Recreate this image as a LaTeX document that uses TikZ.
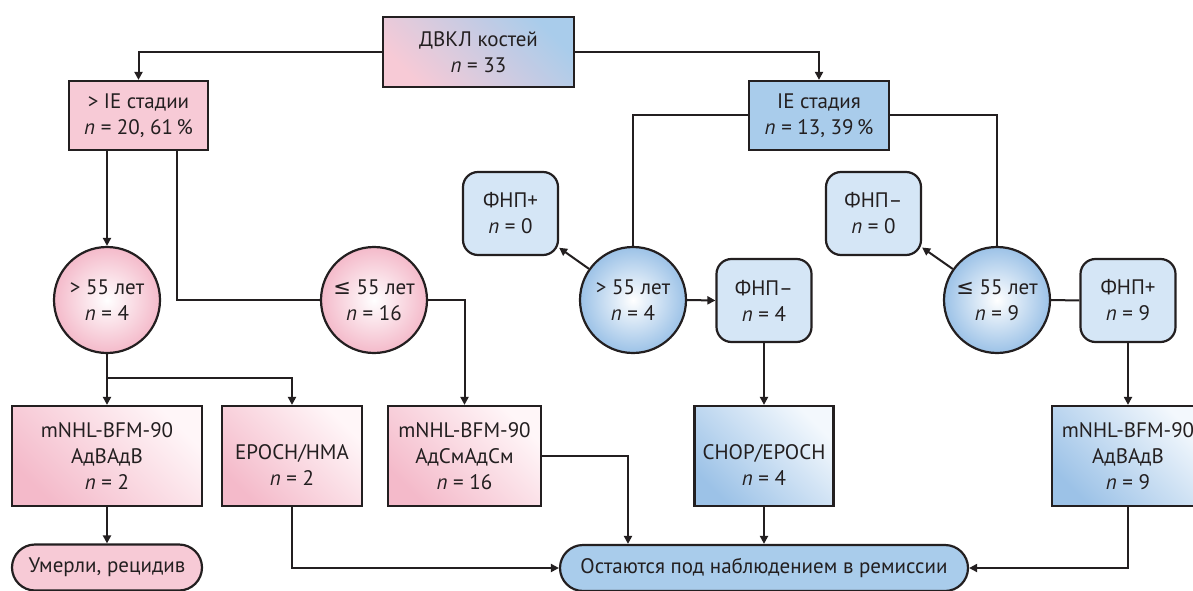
\documentclass[tikz,border=0pt]{standalone}
\usepackage{fontspec}
\setmainfont{PT Sans}
\newfontfamily\dvsym{DejaVu Sans}
\usetikzlibrary{arrows.meta,shapes.misc}
\newcommand\nv{\textit{n}}
\definecolor{linec}{HTML}{231F20}
\definecolor{pinkc}{HTML}{F7CAD6}
\definecolor{pinkd}{HTML}{F4BACA}
\definecolor{pinkl}{HTML}{FFF6F8}
\definecolor{bluec}{HTML}{A9CCEB}
\definecolor{blued}{HTML}{9CC2E7}
\definecolor{bluel}{HTML}{F3F8FD}
\definecolor{bluer}{HTML}{D5E6F6}
\begin{document}
\begin{tikzpicture}[x=1pt,y=-1pt,
  every node/.style={font=\fontsize{21}{26}\selectfont, align=center, text=linec, inner sep=0pt},
  bx/.style={draw=linec, line width=2.2pt, rectangle},
  pbox/.style={bx, fill=pinkc},
  bbox/.style={bx, fill=bluec},
  pgbox/.style={bx, shade, top color=pinkl, bottom color=pinkd, shading angle=-45, minimum height=100},
  bgbox/.style={bx, shade, top color=bluel, bottom color=blued, shading angle=-45, minimum height=100},
  topbox/.style={bx, shade, top color=bluec, bottom color=pinkc, shading angle=-45},
  pcirc/.style={circle, draw=linec, line width=2.2pt, minimum size=106, shade, inner color=white, outer color=pinkd},
  bcirc/.style={circle, draw=linec, line width=2.2pt, minimum size=106, shade, inner color=white, outer color=blued},
  rbox/.style={bx, fill=bluer, rounded corners=15pt, minimum width=95, minimum height=83},
  pill/.style={bx, rounded corners=23pt, minimum height=46},
  txt/.style={},
  conn/.style={draw=linec, line width=2pt},
  arr/.style={conn, -{Triangle[length=8pt,width=8pt]}}
]
\useasboundingbox (0,0) rectangle (1193,591);

% top level
\node[topbox, minimum width=191, minimum height=70] (top) at (478.5,52) {ДВКЛ костей\\\nv{} = 33};
\node[pbox, minimum width=139, minimum height=69] (gt) at (138.5,115.5) {> IE стадии\\\nv{} = 20, 61\,\%};
\node[bbox, minimum width=140, minimum height=69] (ie) at (819,115.5) {IE стадия\\\nv{} = 13, 39\,\%};

% circles
\node[pcirc] (c1) at (107,300) {> 55 лет\\\nv{} = 4};
\node[pcirc] (c3) at (374,300) {{\dvsym ≤} 55 лет\\\nv{} = 16};
\node[bcirc] (c2) at (633,300) {> 55 лет\\\nv{} = 4};
\node[bcirc] (c4) at (997,300) {{\dvsym ≤} 55 лет\\\nv{} = 9};

% rounded boxes
\node[rbox] (f1) at (510.5,213.5) {ФНП+\\\nv{} = 0};
\node[rbox] (f2) at (764,300.5) {ФНП–\\\nv{} = 4};
\node[rbox] (f3) at (873.5,213.5) {ФНП–\\\nv{} = 0};
\node[rbox] (f4) at (1128,300.5) {ФНП+\\\nv{} = 9};

% treatment boxes
\node[pgbox, minimum width=190] (m1) at (107,456) {mNHL-BFM-90\\АдВАдВ\\\nv{} = 2};
\node[pgbox, minimum width=140] (me) at (292,456) {};
\node[txt] (me-t) at (292,465) {EPOCH/HMA\\\nv{} = 2};
\node[pgbox, minimum width=153] (m2) at (464.5,456) {mNHL-BFM-90\\АдСмАдСм\\\nv{} = 16};
\node[bgbox, minimum width=139] (chop) at (764,456) {};
\node[txt] (chop-t) at (764,465) {CHOP/EPOCH\\\nv{} = 4};
\node[bgbox, minimum width=152] (m3) at (1128,456) {mNHL-BFM-90\\АдВАдВ\\\nv{} = 9};

% outcomes
\node[pill, fill=pinkc, minimum width=190] (dead) at (107,567.5) {Умерли, рецидив};
\node[pill, fill=bluec, minimum width=408] (rem) at (764,568) {Остаются под наблюдением в ремиссии};

% connectors
\draw[arr] (top.west) -| (gt.north);
\draw[arr] (top.east) -| (ie.north);
\draw[arr] (gt.south -| c1.north) -- (c1.north);
\draw[conn] (gt.south -| 177,0) |- (c3.west);
\draw[arr] (c3.east) -| (m2.north);
\coordinate (j1) at (107,378);
\draw[conn] (c1.south) -- (j1);
\draw[arr] (j1) -| (me.north);
\draw[arr] (j1) -- (m1.north);
\draw[arr] (m1.south) -- (dead.north);
\draw[arr] (me.south) |- (rem.west);
\draw[arr] (m2.east) -| ([xshift=-136pt]rem.north);
\draw[arr] (chop.south) -- (rem.north);
\draw[arr] (m3.south) |- (rem.east);
\draw[conn] (ie.west) -| (c2.north);
\draw[conn] (ie.east) -| (c4.north);
\draw[arr] (c2) -- (f1);
\draw[arr] (c2.east) -- (f2.west);
\draw[arr] (f2.south) -- (chop.north);
\draw[arr] (c4) -- (f3);
\draw[conn] (c4.east) -- (f4.west);
\draw[arr] (f4.south) -- (m3.north);
\end{tikzpicture}
\end{document}
